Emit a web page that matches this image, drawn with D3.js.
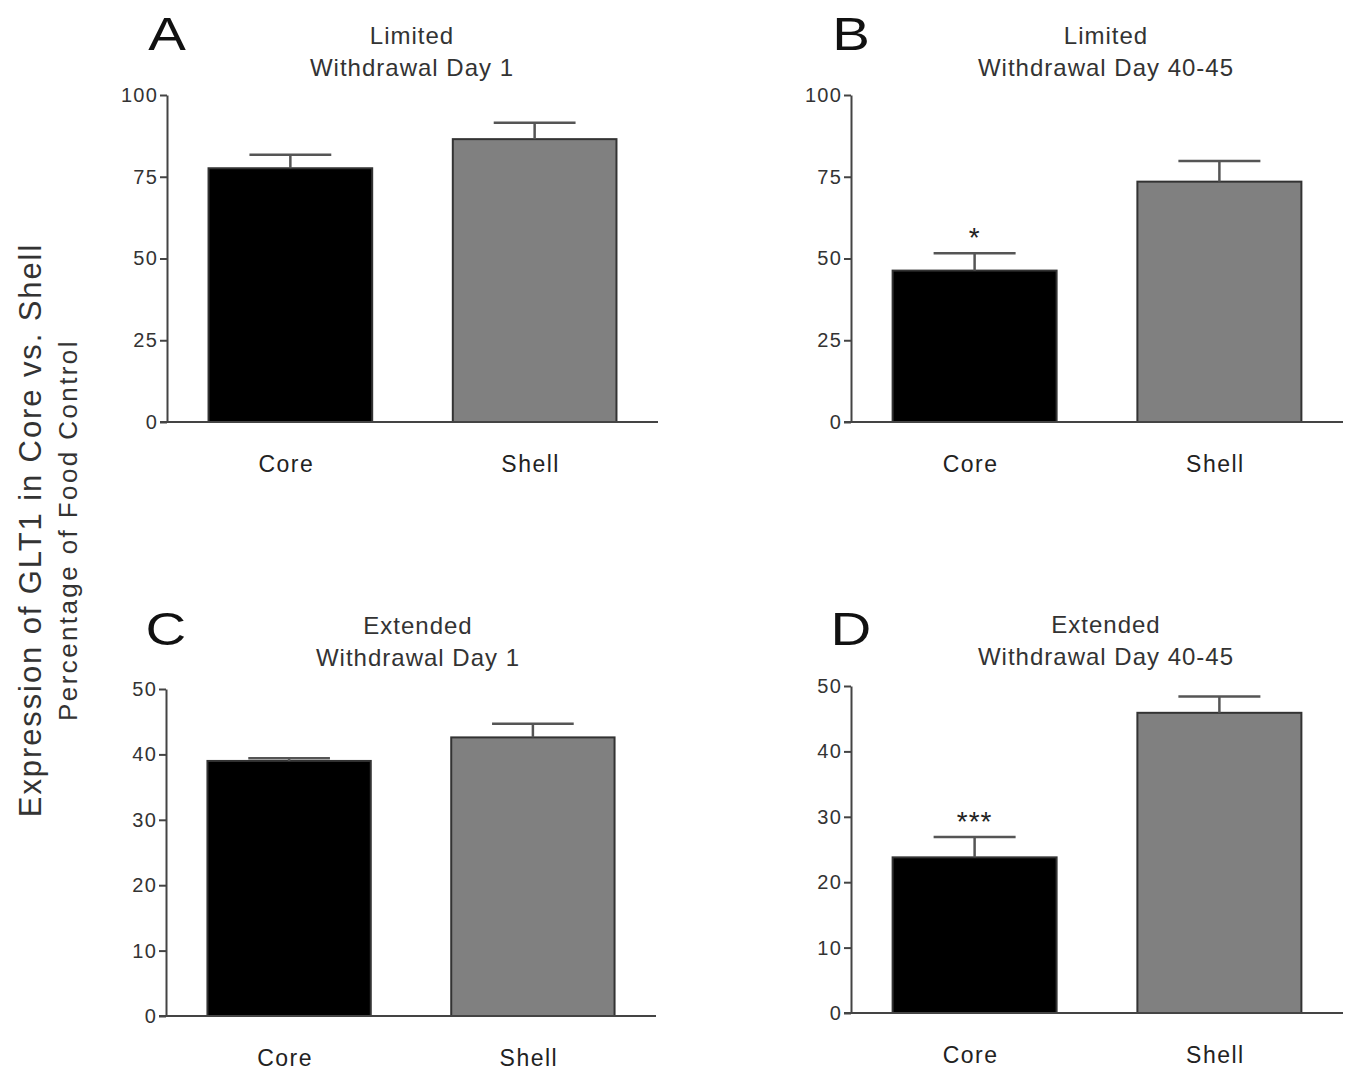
<!DOCTYPE html>
<html>
<head>
<meta charset="utf-8">
<script src="https://cdn.jsdelivr.net/npm/d3@7"></script>
<style>
  body { margin: 0; background: #fff; }
  text { font-family: "Liberation Sans", Arial, sans-serif; }
</style>
</head>
<body>
<svg id="chart" width="1350" height="1072"></svg>
<script>
// data
var categories = ["Core", "Shell"];
var letters = ["A", "B", "C", "D"];
var titles = [
  ["Limited", "Withdrawal Day 1"],
  ["Limited", "Withdrawal Day 40-45"],
  ["Extended", "Withdrawal Day 1"],
  ["Extended", "Withdrawal Day 40-45"]
];
var meansA = [77.6, 86.5], semA = [4.1, 5.0];
var meansB = [46.3, 73.5], semB = [5.3, 6.3];
var meansC = [39.0, 42.6], semC = [0.4, 2.1];
var meansD = [23.8, 45.9], semD = [3.1, 2.5];
var sigB = ["*", ""];
var sigD = ["***", ""];
var none = ["", ""];
var ticksAB = [0, 25, 50, 75, 100];
var ticksCD = [0, 10, 20, 30, 40, 50];
var fills = ["#000000", "#808080"];

var svg = d3.select("#chart");

// layout of each panel (pixels)
var panels = [
  {means: meansA, sem: semA, sig: none, ticks: ticksAB, max: 100, x0: 167, x1: 658, yTop: 95, yBot: 422, ty: 44, ly: 50, tx: 412},
  {means: meansB, sem: semB, sig: sigB, ticks: ticksAB, max: 100, x0: 851, x1: 1343, yTop: 95, yBot: 422, ty: 44, ly: 50, tx: 1106},
  {means: meansC, sem: semC, sig: none, ticks: ticksCD, max: 50, x0: 166, x1: 656, yTop: 689, yBot: 1016, ty: 634, ly: 645, tx: 418},
  {means: meansD, sem: semD, sig: sigD, ticks: ticksCD, max: 50, x0: 851, x1: 1343, yTop: 686, yBot: 1013, ty: 633, ly: 645, tx: 1106}
];

panels.forEach(function(p, i) {
  var g = svg.append("g");

  var x = d3.scaleBand()
    .domain(categories)
    .range([p.x0, p.x1])
    .paddingInner(0.33)
    .paddingOuter(0.17);

  var y = d3.scaleLinear()
    .domain([0, p.max])
    .range([p.yBot, p.yTop]);

  // bars
  g.selectAll("rect.bar")
    .data(categories)
    .enter().append("rect")
      .attr("class", "bar")
      .attr("x", function(d) { return x(d); })
      .attr("width", x.bandwidth())
      .attr("y", function(d, j) { return y(p.means[j]); })
      .attr("height", function(d, j) { return y(0) - y(p.means[j]); })
      .attr("fill", function(d, j) { return fills[j]; })
      .attr("stroke", "#333")
      .attr("stroke-width", 2);

  // error bars (upper only)
  var cap = x.bandwidth() / 4;
  categories.forEach(function(c, j) {
    var cx = x(c) + x.bandwidth() / 2;
    var top = y(p.means[j] + p.sem[j]);
    g.append("line")
      .attr("x1", cx).attr("x2", cx)
      .attr("y1", y(p.means[j])).attr("y2", top)
      .attr("stroke", "#555").attr("stroke-width", 2.5);
    g.append("line")
      .attr("x1", cx - cap).attr("x2", cx + cap)
      .attr("y1", top).attr("y2", top)
      .attr("stroke", "#555").attr("stroke-width", 2.5);
    if (p.sig[j]) {
      g.append("text")
        .attr("x", cx).attr("y", top - 6)
        .attr("text-anchor", "middle")
        .attr("font-size", 28)
        .attr("letter-spacing", 1)
        .attr("fill", "#222")
        .text(p.sig[j]);
    }
  });

  // y axis
  var yAxis = g.append("g")
    .attr("transform", "translate(" + p.x0 + ",0)")
    .call(d3.axisLeft(y).tickValues(p.ticks).tickSize(7).tickPadding(2).tickSizeOuter(0));
  yAxis.select(".domain").attr("stroke", "#444").attr("stroke-width", 2);
  yAxis.selectAll(".tick line").attr("stroke", "#444").attr("stroke-width", 2);
  yAxis.selectAll(".tick text")
    .attr("font-size", 20)
    .attr("letter-spacing", 1.2)
    .attr("fill", "#333")
    .style("font-family", "'Liberation Sans', Arial, sans-serif");

  // x axis baseline
  var xAxis = g.append("g")
    .attr("transform", "translate(0," + p.yBot + ")")
    .call(d3.axisBottom(x).tickSize(0).tickPadding(34));
  xAxis.select(".domain")
    .attr("d", "M" + (p.x0 - 7) + ",0H" + p.x1)
    .attr("stroke", "#444").attr("stroke-width", 2);
  xAxis.selectAll(".tick text")
    .attr("font-size", 23)
    .attr("letter-spacing", 1.5)
    .attr("dx", -4)
    .attr("fill", "#222")
    .style("font-family", "'Liberation Sans', Arial, sans-serif");

  // panel letter
  g.append("text")
    .attr("x", p.x0).attr("y", p.ly)
    .attr("text-anchor", "middle")
    .attr("font-size", 47)
    .attr("transform", "translate(" + p.x0 + ",0) scale(1.2,1) translate(" + (-p.x0) + ",0)")
    .attr("fill", "#111")
    .text(letters[i]);

  // panel title
  titles[i].forEach(function(t, k) {
    g.append("text")
      .attr("x", p.tx).attr("y", p.ty + k * 32)
      .attr("text-anchor", "middle")
      .attr("font-size", 24)
      .attr("letter-spacing", 1)
      .attr("fill", "#333")
      .text(t);
  });
});

// shared y titles
svg.append("text")
  .attr("transform", "translate(41,530) rotate(-90)")
  .attr("text-anchor", "middle")
  .attr("font-size", 31)
  .attr("letter-spacing", 1.9)
  .attr("fill", "#333")
  .text("Expression of GLT1 in Core vs. Shell");

svg.append("text")
  .attr("transform", "translate(77,530) rotate(-90)")
  .attr("text-anchor", "middle")
  .attr("font-size", 26)
  .attr("letter-spacing", 2.4)
  .attr("fill", "#333")
  .text("Percentage of Food Control");
</script>
</body>
</html>
